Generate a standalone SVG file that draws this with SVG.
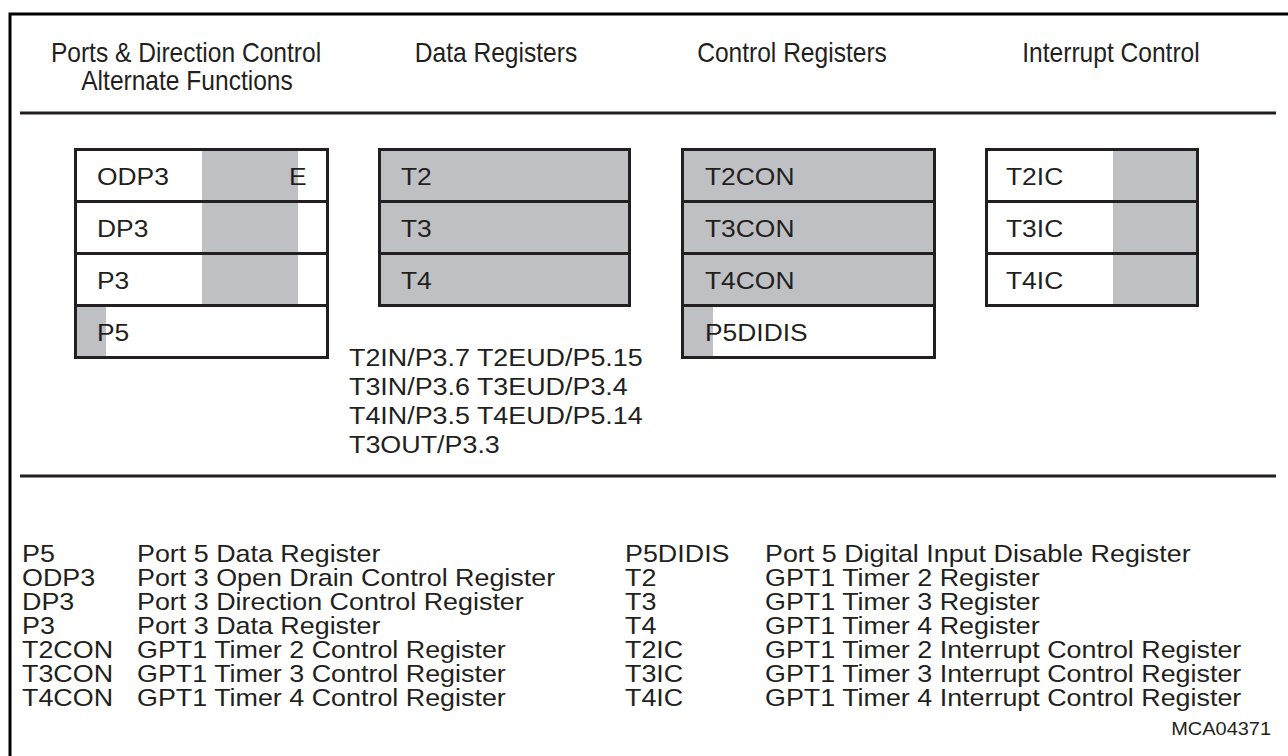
<svg xmlns="http://www.w3.org/2000/svg" width="1288" height="756" viewBox="0 0 1288 756">
<style>
text{font-family:"Liberation Sans",Arial,sans-serif;font-size:24px;fill:#231f20}
.hd{font-size:27px;text-anchor:middle}
.box{fill:none;stroke:#231f20;stroke-width:3}
.g{fill:#bfc0c4}
.ln{stroke:#231f20;stroke-width:3}
.sm{font-size:19px}
</style>
<rect width="1288" height="756" fill="#fff"/>
<g id="frame">
<path d="M10,756 V14 H1288" fill="none" stroke="#000" stroke-width="3"/>
<line class="ln" x1="20" y1="113" x2="1276" y2="113"/>
<line class="ln" x1="20" y1="476" x2="1276" y2="476"/>
</g>
<g id="headers">
<text class="hd" transform="matrix(0.91 0 0 1 186 62)">Ports &amp; Direction Control</text>
<text class="hd" transform="matrix(0.91 0 0 1 187 90)">Alternate Functions</text>
<text class="hd" transform="matrix(0.91 0 0 1 496 62)">Data Registers</text>
<text class="hd" transform="matrix(0.91 0 0 1 792 62)">Control Registers</text>
<text class="hd" transform="matrix(0.91 0 0 1 1111 62)">Interrupt Control</text>
</g>
<g id="ports">
<rect class="g" x="202" y="150" width="96" height="156"/>
<rect class="g" x="76" y="306" width="30" height="51"/>
<rect class="box" x="75.5" y="149.5" width="252" height="208"/>
<line class="ln" x1="75.5" y1="201.5" x2="327.5" y2="201.5"/>
<line class="ln" x1="75.5" y1="253.5" x2="327.5" y2="253.5"/>
<line class="ln" x1="75.5" y1="305.5" x2="327.5" y2="305.5"/>
<text transform="matrix(1.1 0 0 1 97 185)">ODP3</text>
<text transform="matrix(1.1 0 0 1 289 185)">E</text>
<text transform="matrix(1.1 0 0 1 97 237)">DP3</text>
<text transform="matrix(1.1 0 0 1 97 289)">P3</text>
<text transform="matrix(1.1 0 0 1 97 341)">P5</text>
</g>
<g id="data">
<rect class="g" x="379.5" y="149.5" width="250" height="156"/>
<rect class="box" x="379.5" y="149.5" width="250" height="156"/>
<line class="ln" x1="379.5" y1="201.5" x2="629.5" y2="201.5"/>
<line class="ln" x1="379.5" y1="253.5" x2="629.5" y2="253.5"/>
<text transform="matrix(1.1 0 0 1 401 185)">T2</text>
<text transform="matrix(1.1 0 0 1 401 237)">T3</text>
<text transform="matrix(1.1 0 0 1 401 289)">T4</text>
</g>
<g id="control">
<rect class="g" x="682.5" y="149.5" width="252" height="156"/>
<rect class="g" x="683" y="306" width="30" height="51"/>
<rect class="box" x="682.5" y="149.5" width="252" height="208"/>
<line class="ln" x1="682.5" y1="201.5" x2="934.5" y2="201.5"/>
<line class="ln" x1="682.5" y1="253.5" x2="934.5" y2="253.5"/>
<line class="ln" x1="682.5" y1="305.5" x2="934.5" y2="305.5"/>
<text transform="matrix(1.1 0 0 1 705 185)">T2CON</text>
<text transform="matrix(1.1 0 0 1 705 237)">T3CON</text>
<text transform="matrix(1.1 0 0 1 705 289)">T4CON</text>
<text transform="matrix(1.1 0 0 1 705 341)">P5DIDIS</text>
</g>
<g id="interrupt">
<rect class="g" x="1113" y="150" width="84" height="155"/>
<rect class="box" x="986.5" y="149.5" width="211" height="156"/>
<line class="ln" x1="986.5" y1="201.5" x2="1197.5" y2="201.5"/>
<line class="ln" x1="986.5" y1="253.5" x2="1197.5" y2="253.5"/>
<text transform="matrix(1.1 0 0 1 1006 185)">T2IC</text>
<text transform="matrix(1.1 0 0 1 1006 237)">T3IC</text>
<text transform="matrix(1.1 0 0 1 1006 289)">T4IC</text>
</g>
<g id="altfunc">
<text transform="matrix(1.12 0 0 1 349 366)">T2IN/P3.7 T2EUD/P5.15</text>
<text transform="matrix(1.12 0 0 1 349 395)">T3IN/P3.6 T3EUD/P3.4</text>
<text transform="matrix(1.12 0 0 1 349 424)">T4IN/P3.5 T4EUD/P5.14</text>
<text transform="matrix(1.12 0 0 1 349 453)">T3OUT/P3.3</text>
</g>
<g id="legend">
<text transform="matrix(1.12 0 0 1 22 562)">P5</text><text transform="matrix(1.12 0 0 1 137 562)">Port 5 Data Register</text>
<text transform="matrix(1.12 0 0 1 22 586)">ODP3</text><text transform="matrix(1.12 0 0 1 137 586)">Port 3 Open Drain Control Register</text>
<text transform="matrix(1.12 0 0 1 22 610)">DP3</text><text transform="matrix(1.12 0 0 1 137 610)">Port 3 Direction Control Register</text>
<text transform="matrix(1.12 0 0 1 22 634)">P3</text><text transform="matrix(1.12 0 0 1 137 634)">Port 3 Data Register</text>
<text transform="matrix(1.12 0 0 1 22 658)">T2CON</text><text transform="matrix(1.12 0 0 1 137 658)">GPT1 Timer 2 Control Register</text>
<text transform="matrix(1.12 0 0 1 22 682)">T3CON</text><text transform="matrix(1.12 0 0 1 137 682)">GPT1 Timer 3 Control Register</text>
<text transform="matrix(1.12 0 0 1 22 706)">T4CON</text><text transform="matrix(1.12 0 0 1 137 706)">GPT1 Timer 4 Control Register</text>
<text transform="matrix(1.12 0 0 1 625 562)">P5DIDIS</text><text transform="matrix(1.12 0 0 1 765 562)">Port 5 Digital Input Disable Register</text>
<text transform="matrix(1.12 0 0 1 625 586)">T2</text><text transform="matrix(1.12 0 0 1 765 586)">GPT1 Timer 2 Register</text>
<text transform="matrix(1.12 0 0 1 625 610)">T3</text><text transform="matrix(1.12 0 0 1 765 610)">GPT1 Timer 3 Register</text>
<text transform="matrix(1.12 0 0 1 625 634)">T4</text><text transform="matrix(1.12 0 0 1 765 634)">GPT1 Timer 4 Register</text>
<text transform="matrix(1.12 0 0 1 625 658)">T2IC</text><text transform="matrix(1.12 0 0 1 765 658)">GPT1 Timer 2 Interrupt Control Register</text>
<text transform="matrix(1.12 0 0 1 625 682)">T3IC</text><text transform="matrix(1.12 0 0 1 765 682)">GPT1 Timer 3 Interrupt Control Register</text>
<text transform="matrix(1.12 0 0 1 625 706)">T4IC</text><text transform="matrix(1.12 0 0 1 765 706)">GPT1 Timer 4 Interrupt Control Register</text>
<text class="sm" transform="matrix(1.05 0 0 1 1271 735)" text-anchor="end">MCA04371</text>
</g>
</svg>
